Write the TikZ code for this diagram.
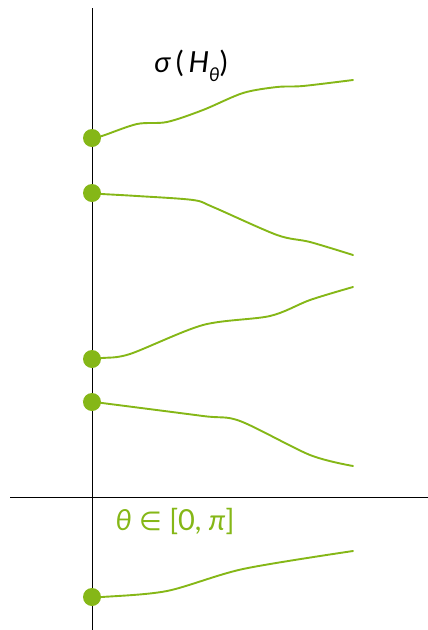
\documentclass[tikz,border=0pt]{standalone}
\usepackage{fontspec}
\setmainfont{Lato}
\newfontfamily\symfont{DejaVu Sans}
\usepackage{xcolor}
\usepackage{tikz}
\definecolor{leaf}{RGB}{133,183,23}
\tikzset{
  axis/.style={draw=black, line width=1pt},
  path/.style={draw=leaf, line width=1.9pt, line cap=round},
  dot/.style={circle, fill=leaf, inner sep=0pt, minimum size=18pt},
  lbl/.style={font=\fontsize{29}{34}\selectfont, inner sep=0pt}
}
\newcommand{\subth}{\raisebox{-0.3em}{\fontsize{19}{21}\selectfont\itshape θ}}
\begin{document}
\begin{tikzpicture}[x=1pt,y=-1pt]
  \useasboundingbox (0,0) rectangle (428,630);
  % axes
  \coordinate (top) at (92,8);
  \coordinate (bot) at (92,630);
  \coordinate (left) at (10,497);
  \coordinate (right) at (428,497);
  \draw[axis] (top)--(bot);
  \draw[axis] (left)--(right);

  % trajectories
  \node[dot] (h1) at (92,138) {};
  \node[dot] (h2) at (92,193) {};
  \node[dot] (h3) at (92,359) {};
  \node[dot] (h4) at (92,402) {};
  \node[dot] (h5) at (92,597) {};

  \draw[path] plot[smooth, tension=0.5] coordinates {(h1.center) (102,136) (137,124) (167,122) (203,110) (243,93) (277,87) (303,86) (353,80)};
  \draw[path] plot[smooth, tension=0.5] coordinates {(h2.center) (102,194) (137,196) (193,200) (213,207) (277,235) (310,242) (353,255)};
  \draw[path] plot[smooth, tension=0.5] coordinates {(h3.center) (102,358) (130,354) (203,325) (270,316) (310,300) (353,287)};
  \draw[path] plot[smooth, tension=0.5] coordinates {(h4.center) (102,403) (203,416) (240,421) (310,455) (353,466)};
  \draw[path] plot[smooth, tension=0.5] coordinates {(h5.center) (102,597) (167,591) (243,569) (353,551)};

  % labels
  \node[lbl] (sig) at (191,66) {\textit{σ}\,(\,\textit{H}\subth)};
  \node[lbl, text=leaf] (rng) at (175,521) {\textit{θ} {\symfont\fontsize{26}{30}\selectfont ∈} [0, \textit{π}]};
\end{tikzpicture}
\end{document}
